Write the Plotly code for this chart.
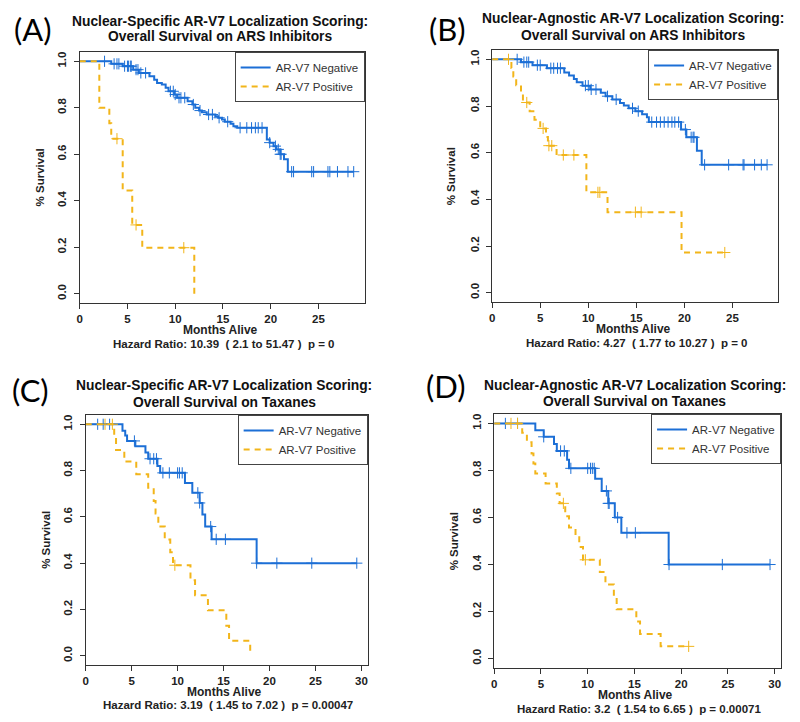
import plotly.graph_objects as go
import numpy as np

# the page puts the figure 8px in from the top-left corner
OFF = 8
W, H = 800 - OFF, 722 - OFF

# ---- text ----
panel_tags = ["(A)", "(B)", "(C)", "(D)"]
titles = [
    ["Nuclear-Specific AR-V7 Localization Scoring:", "Overall Survival on ARS Inhibitors"],
    ["Nuclear-Agnostic AR-V7 Localization Scoring:", "Overall Survival on ARS Inhibitors"],
    ["Nuclear-Specific AR-V7 Localization Scoring:", "Overall Survival on Taxanes"],
    ["Nuclear-Agnostic AR-V7 Localization Scoring:", "Overall Survival on Taxanes"],
]
hazard_text = [
    "Hazard Ratio: 10.39  ( 2.1 to 51.47 )  p = 0",
    "Hazard Ratio: 4.27  ( 1.77 to 10.27 )  p = 0",
    "Hazard Ratio: 3.19  ( 1.45 to 7.02 )  p = 0.00047",
    "Hazard Ratio: 3.2  ( 1.54 to 6.65 )  p = 0.00071",
]
group_names = ["AR-V7 Negative", "AR-V7 Positive"]

# ---- (A) nuclear-specific, ARS inhibitors ----
a_neg_t = [0, 3.3, 4.5, 5.6, 6.2, 7.3, 7.8, 8.1, 8.6, 9.0, 9.3, 9.9, 10.2, 11.3, 11.8, 12.1,
           12.5, 12.8, 13.3, 14.2, 14.5, 14.9, 15.2, 15.8, 16.1, 16.5, 19.6, 19.9, 20.3, 20.6,
           21.0, 21.4, 21.8]
a_neg_s = [1.0, 0.989, 0.979, 0.964, 0.95, 0.936, 0.921, 0.907, 0.900, 0.886, 0.871, 0.857,
           0.843, 0.828, 0.814, 0.800, 0.788, 0.781, 0.771, 0.764, 0.757, 0.750, 0.740, 0.731,
           0.721, 0.714, 0.664, 0.650, 0.635, 0.621, 0.600, 0.578, 0.525]
a_neg_end = 28.7
a_neg_cens = [2.6, 3.6, 3.9, 4.1, 4.7, 5.0, 5.1, 5.3, 5.4, 5.9, 6.1, 6.4, 6.9, 9.5, 9.8, 10.0,
              10.4, 10.6, 11.0, 11.9, 12.6, 13.5, 13.9, 14.6, 15.5, 16.8, 17.5, 18.0, 18.4,
              18.7, 19.1, 19.9, 20.5, 20.8, 21.0, 21.1, 22.2, 22.4, 24.3, 24.5, 26.0, 26.2,
              27.0, 28.1, 28.7]
a_pos_t = [0, 2.05, 3.1, 3.3, 4.5, 5.5, 6.55, 12.0]
a_pos_s = [1.0, 0.8, 0.733, 0.667, 0.444, 0.296, 0.198, 0.0]
a_pos_end = 12.0
a_pos_cens = [3.9, 5.9, 10.9]

# ---- (B) nuclear-agnostic, ARS inhibitors ----
b_neg_t = [0, 3.0, 4.2, 5.7, 7.5, 8.0, 8.5, 8.8, 9.4, 10.2, 11.3, 11.8, 12.5, 13.3, 13.7, 14.2,
           14.9, 15.6, 16.1, 16.3, 19.65, 20.2, 21.3, 21.8]
b_neg_s = [1.0, 0.988, 0.975, 0.962, 0.944, 0.931, 0.916, 0.902, 0.887, 0.871, 0.857, 0.842,
           0.828, 0.813, 0.802, 0.790, 0.778, 0.765, 0.752, 0.731, 0.699, 0.666, 0.608, 0.548]
b_neg_end = 28.6
b_neg_cens = [2.6, 3.3, 3.6, 3.8, 4.7, 5.0, 6.1, 6.4, 6.8, 7.1, 9.7, 10.0, 10.3, 10.8, 12.0,
              12.9, 14.6, 15.2, 16.6, 17.1, 17.5, 17.9, 18.3, 18.7, 19.0, 19.4, 20.1, 20.7,
              20.9, 21.0, 22.1, 24.6, 26.1, 26.2, 27.3, 28.0, 28.6]
b_pos_t = [0, 2.0, 2.2, 2.5, 3.0, 3.2, 3.9, 4.4, 5.0, 5.6, 5.8, 6.7, 9.8, 12.0, 19.7]
b_pos_s = [1.0, 0.963, 0.926, 0.889, 0.852, 0.815, 0.778, 0.741, 0.704, 0.667, 0.630, 0.59,
           0.43, 0.345, 0.172]
b_pos_end = 24.2
b_pos_cens = [1.7, 3.6, 5.3, 5.9, 6.2, 7.4, 8.5, 11.0, 11.2, 14.9, 15.5, 24.2]

# ---- (C) nuclear-specific, taxanes ----
c_neg_t = [0, 4.0, 4.3, 4.5, 5.4, 6.5, 6.8, 7.8, 8.1, 10.8, 11.6, 12.4, 12.7, 13.0, 13.7, 18.6]
c_neg_s = [1.0, 0.972, 0.951, 0.928, 0.905, 0.878, 0.851, 0.82, 0.79, 0.746, 0.704, 0.66,
           0.61, 0.558, 0.503, 0.40]
c_neg_end = 29.5
c_neg_cens = [1.3, 1.9, 2.6, 5.3, 7.0, 7.4, 7.7, 8.4, 9.1, 10.0, 10.2, 10.5, 12.2, 12.4, 13.6,
              14.2, 15.2, 18.6, 20.8, 24.6, 29.5]
c_pos_t = [0, 3.1, 3.3, 4.2, 5.5, 6.8, 7.4, 7.6, 7.9, 8.6, 9.2, 9.5, 11.4, 11.9, 13.3, 15.3,
           15.6, 17.9]
c_pos_s = [1.0, 0.944, 0.889, 0.839, 0.784, 0.726, 0.669, 0.614, 0.558, 0.502, 0.447, 0.391,
           0.326, 0.261, 0.196, 0.130, 0.065, 0.0]
c_pos_end = 17.9
c_pos_cens = [2.1, 2.9, 9.7]

# ---- (D) nuclear-agnostic, taxanes ----
d_neg_t = [0, 4.4, 5.3, 6.4, 6.7, 7.8, 8.0, 10.8, 11.5, 12.2, 12.9, 13.6, 18.66]
d_neg_s = [1.0, 0.971, 0.943, 0.912, 0.883, 0.846, 0.809, 0.765, 0.713, 0.66, 0.60, 0.535,
           0.40]
d_neg_end = 29.5
d_neg_cens = [1.2, 2.5, 5.3, 7.1, 7.5, 8.2, 10.0, 10.3, 10.5, 10.7, 12.0, 12.2, 12.3, 13.2,
              14.2, 15.1, 18.7, 24.4, 29.5]
d_pos_t = [0, 3.0, 3.5, 4.0, 4.2, 4.4, 5.5, 6.7, 7.0, 7.6, 8.0, 8.7, 9.1, 9.5, 11.3, 11.9,
           12.8, 13.1, 15.2, 15.6, 17.8]
d_pos_s = [1.0, 0.96, 0.92, 0.872, 0.83, 0.787, 0.745, 0.702, 0.66, 0.605, 0.557, 0.52, 0.475,
           0.42, 0.368, 0.315, 0.263, 0.21, 0.158, 0.105, 0.052]
d_pos_end = 20.8
d_pos_cens = [1.8, 2.5, 7.4, 9.75, 20.8]

panels = [
    [(a_neg_t, a_neg_s, a_neg_end, a_neg_cens), (a_pos_t, a_pos_s, a_pos_end, a_pos_cens)],
    [(b_neg_t, b_neg_s, b_neg_end, b_neg_cens), (b_pos_t, b_pos_s, b_pos_end, b_pos_cens)],
    [(c_neg_t, c_neg_s, c_neg_end, c_neg_cens), (c_pos_t, c_pos_s, c_pos_end, c_pos_cens)],
    [(d_neg_t, d_neg_s, d_neg_end, d_neg_cens), (d_pos_t, d_pos_s, d_pos_end, d_pos_cens)],
]

# plot boxes in window pixels: x0, x1, y0 (top), y1 (bottom)
boxes = [(77, 363, 52, 303), (491, 778, 50, 302), (83, 366, 415, 665), (493, 781, 414, 668)]
title_x = [218, 632, 222, 634]
title_y = [(21, 37), (19, 36), (385, 402.5), (385, 401.5)]
tag_pos = [(30, 29), (446, 29), (28, 390), (445, 386)]
ytitle_x = [37, 450, 43, 453]
months_y = [330, 329, 692, 695]
hazard_y = [344, 343, 705, 709]

colors = ["#1C6FD6", "#F2B51A"]
dashes = ["solid", "6px,5px"]
FONT = "Liberation Sans, Arial, sans-serif"


def px(x):
    return (x - OFF) / W


def py(y):
    return 1 - (y - OFF) / H


def surv_at(t, s, times):
    idx = np.searchsorted(np.array(t), np.array(times), side="right") - 1
    return np.array(s)[idx]


fig = go.Figure()
annotations = []
layout = {}

for i, groups in enumerate(panels):
    sfx = "" if i == 0 else str(i + 1)
    xa, ya = "x" + sfx, "y" + sfx
    leg = "legend" + sfx
    xmax = max(g[2] for g in groups) * 1.04

    for j, (t, s, end, cens) in enumerate(groups):
        xs = list(t) + ([end] if end > t[-1] else [])
        ys = list(s) + ([s[-1]] if end > t[-1] else [])
        fig.add_trace(go.Scatter(
            x=xs, y=ys, mode="lines", line_shape="hv",
            line=dict(color=colors[j], width=2, dash=dashes[j]),
            name=group_names[j], xaxis=xa, yaxis=ya, legend=leg,
        ))
        fig.add_trace(go.Scatter(
            x=cens, y=surv_at(t, s, cens), mode="markers",
            marker=dict(symbol="cross-thin", size=8, line=dict(color=colors[j], width=1)),
            showlegend=False, hoverinfo="skip", xaxis=xa, yaxis=ya,
        ))

    x0, x1, y0, y1 = boxes[i]
    axis_common = dict(
        showgrid=False, zeroline=False, showline=True, mirror=True,
        linecolor="#333", linewidth=1, ticks="outside", ticklen=5, tickcolor="#333",
        tickfont=dict(family=FONT, size=11.5, weight="bold", color="#222"),
    )
    layout["xaxis" + sfx] = dict(
        domain=[px(x0), px(x1)], range=[0, xmax], anchor=ya,
        tickvals=[0, 5, 10, 15, 20, 25, 30], **axis_common,
    )
    layout["yaxis" + sfx] = dict(
        domain=[py(y1), py(y0)], range=[-0.04, 1.04], anchor=xa,
        tickvals=[0, 0.2, 0.4, 0.6, 0.8, 1.0], tickformat=".1f", tickangle=-90,
        ticklabelstandoff=3, **axis_common,
    )
    layout[leg] = dict(
        x=px(x1), y=py(y0), xanchor="right", yanchor="top",
        bgcolor="white", bordercolor="#444", borderwidth=1,
        font=dict(family=FONT, size=11.5, color="#333"),
        tracegroupgap=0,
    )

    cx = (x0 + x1) / 2
    for line, ty in zip(titles[i], title_y[i]):
        annotations.append(dict(text="<b>%s</b>" % line, x=px(title_x[i]), y=py(ty),
                                font=dict(family=FONT, size=13.8, color="#111")))
    annotations += [
        dict(text=panel_tags[i], x=px(tag_pos[i][0]), y=py(tag_pos[i][1]),
             font=dict(family="Lato, Open Sans, sans-serif", size=31, color="black")),
        dict(text="<b>% Survival</b>", x=px(ytitle_x[i]), y=py((y0 + y1) / 2), textangle=-90,
             font=dict(family=FONT, size=11.5, color="#222")),
        dict(text="<b>Months Alive</b>", x=px(cx - 2), y=py(months_y[i]),
             font=dict(family=FONT, size=12, color="#222")),
        dict(text="<b>%s</b>" % hazard_text[i].replace(" ", "\u00a0"), x=px(cx + 1),
             y=py(hazard_y[i]), font=dict(family=FONT, size=11.5, color="#222")),
    ]

for a in annotations:
    a.update(xref="paper", yref="paper", showarrow=False, xanchor="center", yanchor="middle")

fig.update_layout(
    width=W, height=H, margin=dict(l=0, r=0, t=0, b=0),
    paper_bgcolor="white", plot_bgcolor="white",
    annotations=annotations, **layout,
)

fig.write_html("out.html")
